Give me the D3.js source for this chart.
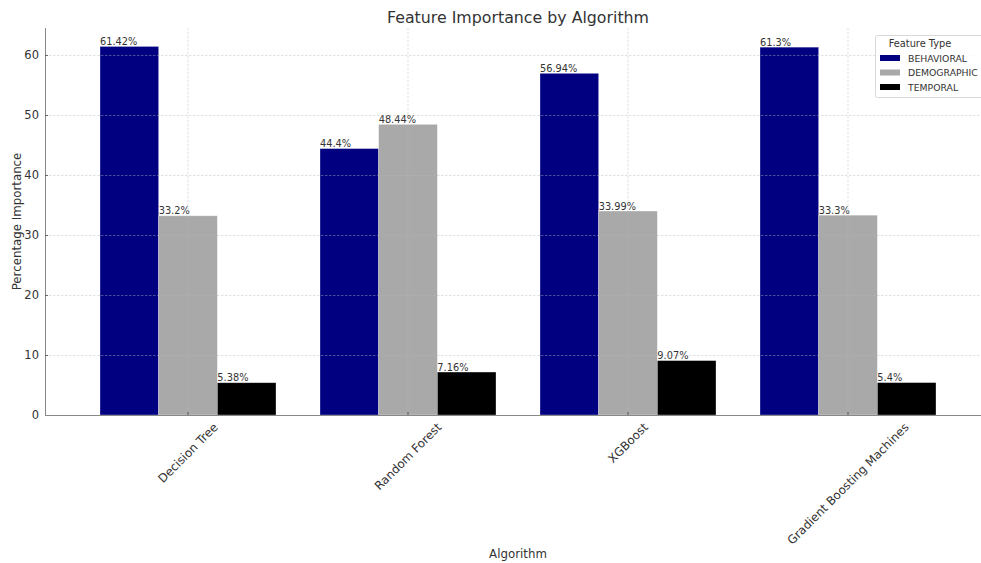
<!DOCTYPE html>
<html>
<head>
<meta charset="utf-8">
<script src="https://cdn.jsdelivr.net/npm/d3@7"></script>
<style>
  html, body { margin: 0; padding: 0; background: #fff; overflow: hidden; }
  svg { display: block; font-family: "DejaVu Sans", sans-serif; }
</style>
</head>
<body>
<svg id="chart" width="981" height="563"></svg>
<script>
// Feature importance shares (%) per algorithm, grouped by feature type
const algorithms = ["Decision Tree", "Random Forest", "XGBoost", "Gradient Boosting Machines"];
const featureTypes = ["BEHAVIORAL", "DEMOGRAPHIC", "TEMPORAL"];
const behavioral = [61.42, 44.4, 56.94, 61.3];
const demographic = [33.2, 48.44, 33.99, 33.3];
const temporal = [5.38, 7.16, 9.07, 5.4];
const typeColors = ["#000080", "#a9a9a9", "#000000"];
const yTicks = [0, 10, 20, 30, 40, 50, 60];

const seriesValues = [behavioral, demographic, temporal];
const rows = algorithms.map((name, i) => ({
  name,
  values: featureTypes.map((t, j) => ({ type: t, value: seriesValues[j][i] }))
}));

const svg = d3.select("#chart");
const margin = { left: 45, right: -10, top: 28, bottom: 148 };
const W = 981, H = 563;
const plotLeft = margin.left, plotRight = W - margin.right;
const plotTop = margin.top, plotBottom = H - margin.bottom;

const x0 = d3.scaleBand()
  .domain(algorithms)
  .range([plotLeft, plotRight])
  .paddingInner(0.2)
  .paddingOuter(0.25);
const x1 = d3.scaleBand()
  .domain(featureTypes)
  .range([0, x0.bandwidth()]);
const yMax = d3.max(seriesValues.flat()) * 1.05;
const y = d3.scaleLinear().domain([0, yMax]).range([plotBottom, plotTop]);
const color = d3.scaleOrdinal().domain(featureTypes).range(typeColors);

// Bars
const groups = svg.append("g")
  .selectAll("g")
  .data(rows)
  .join("g")
  .attr("transform", d => `translate(${x0(d.name)},0)`);

groups.selectAll("rect")
  .data(d => d.values)
  .join("rect")
  .attr("x", d => x1(d.type))
  .attr("y", d => y(d.value))
  .attr("width", x1.bandwidth())
  .attr("height", d => y(0) - y(d.value))
  .attr("fill", d => color(d.type))
  .attr("stroke", "#fff")
  .attr("stroke-opacity", 0.45)
  .attr("stroke-width", 0.7);

// Value labels, left-aligned on each bar
groups.selectAll("text")
  .data(d => d.values)
  .join("text")
  .attr("x", d => x1(d.type))
  .attr("y", d => y(d.value) - 1.5)
  .attr("font-size", 9.8)
  .attr("fill", "#333")
  .text(d => `${d.value}%`);

// Dashed grid
const grid = svg.append("g")
  .attr("stroke", "#b8b8b8")
  .attr("stroke-opacity", 0.55)
  .attr("stroke-width", 0.8)
  .attr("stroke-dasharray", "2.5,1.5");
grid.selectAll("line.h")
  .data(yTicks)
  .join("line")
  .attr("class", "h")
  .attr("x1", plotLeft).attr("x2", plotRight)
  .attr("y1", d => y(d) + 0.5).attr("y2", d => y(d) + 0.5);
grid.selectAll("line.v")
  .data(algorithms)
  .join("line")
  .attr("class", "v")
  .attr("x1", d => x0(d) + x0.bandwidth() / 2)
  .attr("x2", d => x0(d) + x0.bandwidth() / 2)
  .attr("y1", plotTop).attr("y2", plotBottom);

// Y axis
const yAxis = svg.append("g")
  .attr("transform", `translate(${plotLeft},0)`)
  .call(d3.axisLeft(y).tickValues(yTicks).tickSize(-3).tickPadding(6));
yAxis.select(".domain").attr("stroke", "#888").attr("d", `M0.5,${plotTop}V${plotBottom}`);
yAxis.selectAll(".tick line").attr("stroke", "#666");
yAxis.selectAll(".tick text").attr("font-size", 11.5).attr("fill", "#333")
  .attr("font-family", "DejaVu Sans, sans-serif");

// X axis
const xAxis = svg.append("g")
  .attr("transform", `translate(0,${plotBottom})`)
  .call(d3.axisBottom(x0).tickSize(-3).tickPadding(0).tickSizeOuter(0));
xAxis.select(".domain").attr("stroke", "#888").attr("d", `M${plotLeft},0.5H${plotRight}`);
xAxis.selectAll(".tick line").attr("stroke", "#555");
xAxis.selectAll(".tick text")
  .attr("font-size", 11.8)
  .attr("fill", "#333")
  .attr("font-family", "DejaVu Sans, sans-serif")
  .attr("text-anchor", "end")
  .attr("dy", null)
  .each(function () {
    // rotate 45° and centre the rotated box under the tick
    const t = d3.select(this);
    const L = this.getComputedTextLength();
    const ax = (L + 8) * Math.SQRT1_2 / 2;
    const ay = 13;
    t.attr("x", 0).attr("y", 0)
      .attr("transform", `translate(${ax},${ay}) rotate(-45)`);
  });

// Title and axis labels
svg.append("text")
  .attr("x", (plotLeft + plotRight) / 2).attr("y", 23)
  .attr("text-anchor", "middle").attr("font-size", 15.8).attr("fill", "#333")
  .text("Feature Importance by Algorithm");
svg.append("text")
  .attr("x", (plotLeft + plotRight) / 2).attr("y", 558)
  .attr("text-anchor", "middle").attr("font-size", 11.8).attr("fill", "#333")
  .text("Algorithm");
svg.append("text")
  .attr("transform", `translate(21,${(plotTop + plotBottom) / 2}) rotate(-90)`)
  .attr("text-anchor", "middle").attr("font-size", 11.8).attr("fill", "#333")
  .text("Percentage Importance");

// Legend
const legend = svg.append("g").attr("transform", "translate(875,35)");
legend.append("rect")
  .attr("x", 0.5).attr("y", 0.5).attr("width", 125).attr("height", 62).attr("rx", 2)
  .attr("fill", "#fff").attr("fill-opacity", 0.85).attr("stroke", "#d8d8d8");
legend.append("text")
  .attr("x", 45).attr("y", 11.5).attr("text-anchor", "middle")
  .attr("font-size", 9.8).attr("fill", "#333").text("Feature Type");
const items = legend.selectAll("g.item")
  .data(featureTypes)
  .join("g")
  .attr("class", "item")
  .attr("transform", (d, i) => `translate(0,${23 + i * 14.5})`);
items.append("rect")
  .attr("x", 5).attr("y", -3).attr("width", 20).attr("height", 6)
  .attr("fill", d => color(d));
items.append("text")
  .attr("x", 33).attr("y", 3.5)
  .attr("font-size", 9.3).attr("fill", "#333").text(d => d);
</script>
</body>
</html>
